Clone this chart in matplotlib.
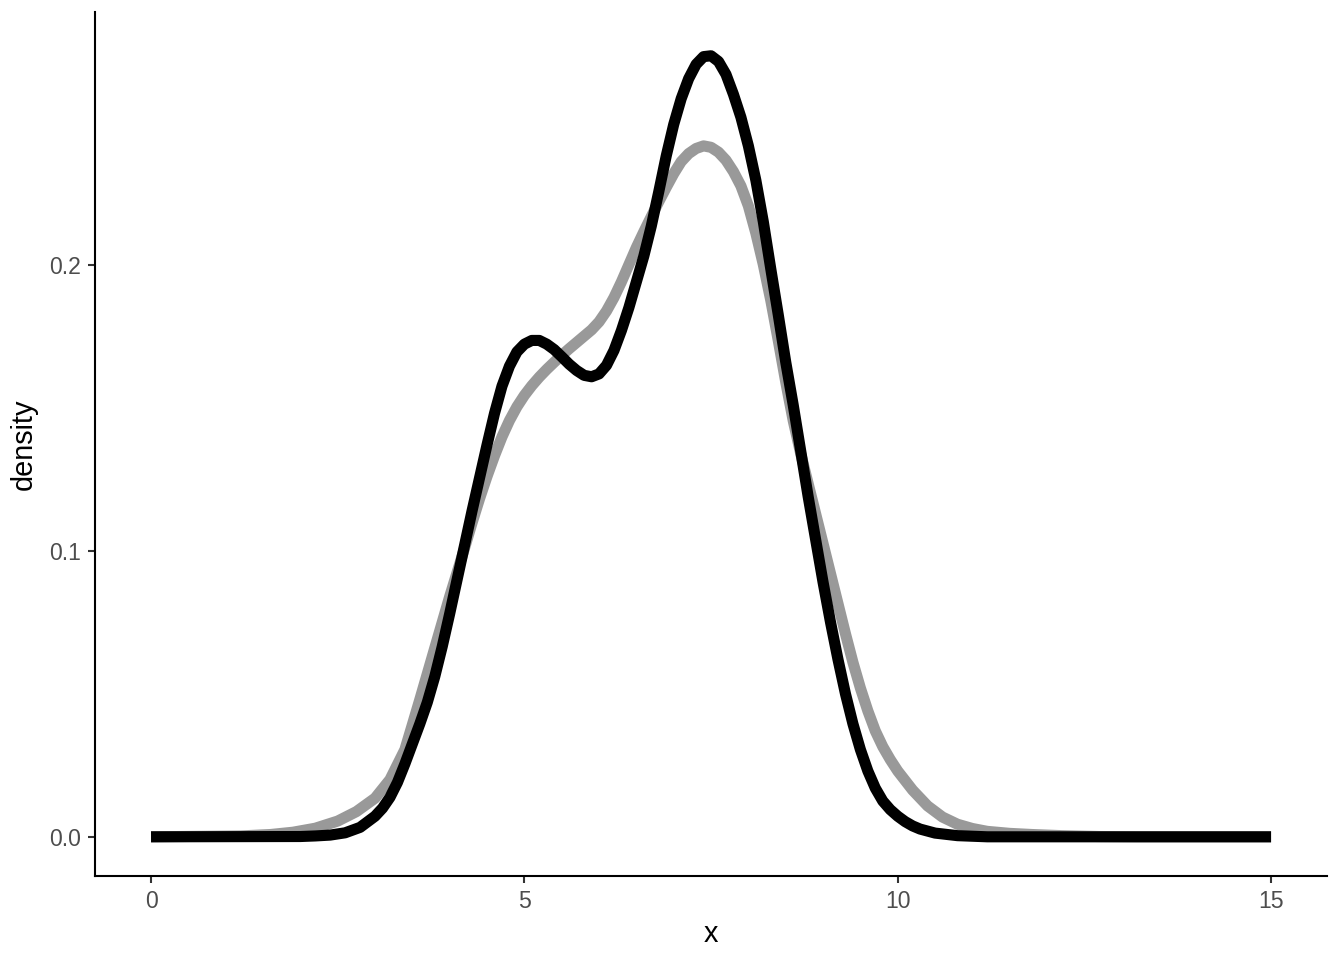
import matplotlib
matplotlib.use("Agg")
import matplotlib.pyplot as plt

plt.rcParams['font.family'] = ['Liberation Sans', 'DejaVu Sans']

# grey density curve
grey_x = [0.0, 1.2, 1.6, 1.9, 2.2, 2.5, 2.75, 3.0, 3.2, 3.4, 3.5, 3.6, 3.7, 3.8, 3.9,
          4.0, 4.1, 4.2, 4.3, 4.4, 4.5, 4.6, 4.7, 4.8, 4.9, 5.0, 5.1, 5.2, 5.3, 5.4,
          5.5, 5.6, 5.7, 5.8, 5.9, 6.0, 6.1, 6.2, 6.3, 6.4, 6.5, 6.6, 6.7, 6.8, 6.9,
          7.0, 7.1, 7.2, 7.3, 7.4, 7.5, 7.6, 7.7, 7.8, 7.9, 8.0, 8.1, 8.2, 8.3, 8.4,
          8.5, 8.6, 8.7, 8.8, 8.9, 9.0, 9.1, 9.2, 9.3, 9.4, 9.5, 9.6, 9.7, 9.8, 9.9,
          10.0, 10.2, 10.4, 10.6, 10.8, 11.0, 11.2, 11.5, 11.8, 12.2, 12.7, 13.2, 15.0]
grey_y = [0.0, 0.0003, 0.0008, 0.0016, 0.003, 0.0055, 0.0088, 0.0135, 0.02, 0.0305,
          0.0392, 0.048, 0.057, 0.066, 0.075, 0.084, 0.0925, 0.101, 0.1098, 0.1182, 0.126,
          0.1332, 0.1398, 0.1455, 0.1503, 0.1543, 0.1577, 0.1607, 0.1634, 0.1659, 0.1683,
          0.1706, 0.1728, 0.175, 0.1772, 0.18, 0.1838, 0.1885, 0.194, 0.2, 0.206,
          0.2115, 0.2168, 0.222, 0.227, 0.2318, 0.236, 0.2388, 0.2406, 0.2415, 0.241,
          0.2393, 0.2365, 0.2325, 0.2275, 0.2205, 0.211, 0.2, 0.1875, 0.1735, 0.159,
          0.1455, 0.134, 0.1235, 0.113, 0.1025, 0.092, 0.0815, 0.071, 0.061, 0.052,
          0.044, 0.037, 0.0315, 0.027, 0.023, 0.0163, 0.0108, 0.0069, 0.0044, 0.0029,
          0.0019, 0.0012, 0.0008, 0.0004, 0.0001, 0.0, 0.0]

# black density curve
black_x = [0.0, 2.0, 2.2, 2.4, 2.6, 2.8, 3.0, 3.1, 3.2, 3.3, 3.4, 3.5, 3.6, 3.7, 3.8,
           3.9, 4.0, 4.1, 4.2, 4.3, 4.4, 4.5, 4.6, 4.7, 4.8, 4.9, 5.0, 5.1, 5.2, 5.3,
           5.4, 5.5, 5.6, 5.7, 5.8, 5.9, 6.0, 6.1, 6.2, 6.3, 6.4, 6.5, 6.6, 6.7, 6.8,
           6.9, 7.0, 7.1, 7.2, 7.3, 7.4, 7.5, 7.6, 7.7, 7.8, 7.9, 8.0, 8.1, 8.2, 8.3,
           8.4, 8.5, 8.6, 8.7, 8.8, 8.9, 9.0, 9.1, 9.2, 9.3, 9.4, 9.5, 9.6, 9.7, 9.8,
           9.9, 10.0, 10.1, 10.2, 10.3, 10.5, 10.8, 11.2, 15.0]
black_y = [0.0, 0.0001, 0.0003, 0.0006, 0.0014, 0.0033, 0.0072, 0.01, 0.0138, 0.019,
           0.0255, 0.0325, 0.0395, 0.047, 0.056, 0.0665, 0.078, 0.09, 0.102, 0.114,
           0.1255, 0.137, 0.148, 0.1575, 0.1645, 0.1695, 0.1722, 0.1735, 0.1735, 0.1722,
           0.1703, 0.1678, 0.1652, 0.163, 0.1613, 0.1608, 0.1618, 0.1648, 0.17, 0.177,
           0.185, 0.194, 0.203, 0.2135, 0.2255, 0.238, 0.249, 0.258, 0.265, 0.27,
           0.2727, 0.273, 0.271, 0.2665, 0.2595, 0.2515, 0.2415, 0.2295, 0.215, 0.1985,
           0.1825, 0.166, 0.151, 0.135, 0.119, 0.104, 0.089, 0.075, 0.062, 0.05, 0.0395,
           0.0305, 0.023, 0.017, 0.0125, 0.0095, 0.0072, 0.0053, 0.0038, 0.0027, 0.0013,
           0.0004, 0.0, 0.0]

x_ticks = [0, 5, 10, 15]
y_ticks = [0.0, 0.1, 0.2]
y_tick_labels = ["0.0", "0.1", "0.2"]

fig = plt.figure(figsize=(6.72, 4.8), dpi=200)
ax = fig.add_axes([0.0707, 0.0875, 0.9167, 0.9])

ax.plot(grey_x, grey_y, color="#999999", lw=4.0, solid_capstyle="butt", solid_joinstyle="round")
ax.plot(black_x, black_y, color="black", lw=4.0, solid_capstyle="butt", solid_joinstyle="round")

ax.set_xlim(-0.75, 15.75)
ax.set_ylim(-0.0137, 0.2883)
ax.set_xticks(x_ticks)
ax.set_yticks(y_ticks)
ax.set_yticklabels(y_tick_labels)

for side in ["top", "right"]:
    ax.spines[side].set_visible(False)
for side in ["left", "bottom"]:
    ax.spines[side].set_linewidth(0.75)
    ax.spines[side].set_color("black")

ax.tick_params(axis="both", length=2.6, width=0.75, color="#333333",
               labelcolor="#4D4D4D", labelsize=8.3, pad=2.5)

ax.set_xlabel("x", fontsize=10.4, color="black", labelpad=2.5)
ax.set_ylabel("density", fontsize=10.4, color="black", labelpad=4)

fig.savefig("out.png", dpi=200, facecolor="white")
